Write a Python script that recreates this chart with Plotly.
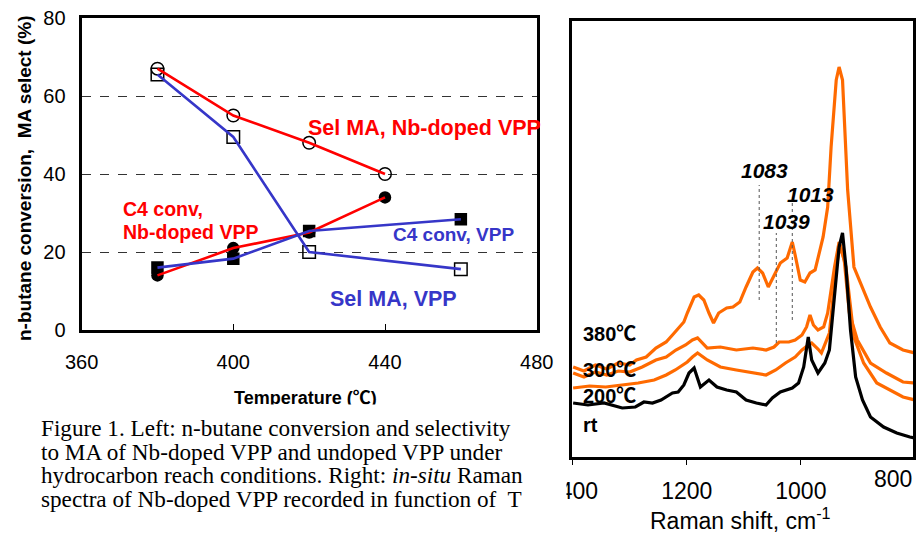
import plotly.graph_objects as go

# ---------------- Left panel data ----------------
temps_nb = [380, 400, 420, 440]
sel_ma_nb = [67, 55, 48, 40]
conv_nb = [14, 21, 25, 34]
temps_vpp = [380, 400, 420, 460]
sel_ma_vpp = [65.5, 49.5, 20, 15.6]
conv_vpp = [16, 18.3, 25.4, 28.4]
left_xticks = [360, 400, 440, 480]
left_yticks = [0, 20, 40, 60, 80]

# ---------------- Right panel data (Raman, arbitrary intensity) ----------------
w_380 = [1399, 1380, 1360, 1340, 1320, 1300, 1288, 1271, 1254, 1236, 1225, 1214, 1205, 1199, 1187,
         1179, 1170, 1161, 1153, 1144, 1130, 1119, 1107, 1096, 1084, 1076, 1067, 1057, 1047, 1036,
         1024, 1015, 1010, 1001, 993, 984, 975, 961, 953, 947, 938, 933, 927, 918, 907, 892, 878,
         861, 844, 821, 800]
i_380 = [90, 86, 92, 88, 94, 92, 97, 100, 109, 115, 122, 129, 135, 144, 160,
         162, 157, 144, 134, 144, 149, 150, 155, 170, 185, 189, 184, 170, 182, 194,
         199, 215, 202, 177, 175, 184, 187, 220, 250, 310, 377, 390, 377, 267, 190, 170, 150,
         130, 114, 107, 104]

w_300 = [1399, 1380, 1360, 1340, 1320, 1300, 1278, 1254, 1236, 1219, 1202, 1190, 1181, 1164, 1141,
         1113, 1084, 1061, 1047, 1038, 1021, 1010, 998, 990, 984, 978, 970, 960, 953, 941, 933, 924,
         915, 901, 878, 850, 821, 800]
i_300 = [84, 80, 85, 82, 86, 85, 90, 97, 100, 107, 112, 117, 119, 109, 110,
         107, 109, 107, 110, 115, 115, 117, 122, 130, 142, 132, 127, 130, 144, 190, 215, 197,
         144, 117, 94, 84, 75, 74]

w_200 = [1399, 1370, 1342, 1310, 1285, 1257, 1236, 1220, 1199, 1190, 1181, 1164, 1141, 1113, 1084,
         1061, 1044, 1027, 1010, 998, 987, 981, 970, 964, 950, 938, 931, 921, 907, 890, 867, 844,
         821, 800]
i_200 = [69, 71, 70, 72, 74, 77, 82, 87, 95, 100, 104, 97, 90, 87, 84,
         82, 87, 94, 100, 107, 112, 114, 108, 104, 124, 190, 212, 190, 120, 94, 74, 67,
         60, 57]

w_rt = [1399, 1373, 1345, 1313, 1290, 1275, 1260, 1245, 1225, 1215, 1205, 1196, 1187, 1176, 1161,
        1147, 1130, 1113, 1096, 1078, 1061, 1050, 1036, 1015, 1004, 995, 987, 981, 970, 958, 950,
        941, 933, 927, 921, 913, 904, 892, 878, 855, 832, 809, 800]
i_rt = [54, 52, 54, 49, 50, 55, 54, 57, 64, 65, 72, 84, 89, 70, 77,
        70, 67, 65, 57, 54, 52, 59, 65, 69, 74, 90, 120, 97, 84, 94, 107,
        160, 210, 224, 190, 127, 80, 57, 40, 30, 24, 20, 19]

right_xticks = [1400, 1200, 1000, 800]
peak_labels = ["1083", "1039", "1013"]
peak_line_x = [1073, 1043, 1015]
peak_line_y0 = [157, 114, 137]
peak_line_y1 = [272, 224, 254]

# page body has an 8px margin; figure is sized so that the page does not scroll
OFF = 8
W, H = 924 - OFF, 543 - 2 * OFF
RED = "#FF0000"
BLUE = "#3636C8"
ORANGE = "#FF6A00"
SANS = "Liberation Sans, Arial, Noto Sans CJK SC"
SERIF = "Liberation Serif, Times New Roman, serif"


def px(x):
    return (x - OFF) / W


def py(y):
    return 1 - (y - OFF) / H


fig = go.Figure()

# markers first (black), lines on top
fig.add_trace(go.Scatter(x=temps_nb, y=sel_ma_nb, mode="markers", xaxis="x", yaxis="y",
                         marker=dict(symbol="circle-open", size=12.5, color="black", line=dict(width=1.5))))
fig.add_trace(go.Scatter(x=temps_vpp, y=sel_ma_vpp, mode="markers", xaxis="x", yaxis="y",
                         marker=dict(symbol="square-open", size=12.5, color="black", line=dict(width=1.5))))
fig.add_trace(go.Scatter(x=temps_nb, y=conv_nb, mode="markers", xaxis="x", yaxis="y",
                         marker=dict(symbol="circle", size=12.5, color="black")))
fig.add_trace(go.Scatter(x=temps_vpp, y=conv_vpp, mode="markers", xaxis="x", yaxis="y",
                         marker=dict(symbol="square", size=12.5, color="black")))
fig.add_trace(go.Scatter(x=temps_nb, y=sel_ma_nb, mode="lines", xaxis="x", yaxis="y",
                         line=dict(color=RED, width=2.6)))
fig.add_trace(go.Scatter(x=temps_nb, y=conv_nb, mode="lines", xaxis="x", yaxis="y",
                         line=dict(color=RED, width=2.6)))
fig.add_trace(go.Scatter(x=temps_vpp, y=sel_ma_vpp, mode="lines", xaxis="x", yaxis="y",
                         line=dict(color=BLUE, width=2.6)))
fig.add_trace(go.Scatter(x=temps_vpp, y=conv_vpp, mode="lines", xaxis="x", yaxis="y",
                         line=dict(color=BLUE, width=2.6)))

# Raman spectra
for wv, iv, col in [(w_380, i_380, ORANGE), (w_300, i_300, ORANGE), (w_200, i_200, ORANGE), (w_rt, i_rt, "black")]:
    fig.add_trace(go.Scatter(x=wv, y=iv, mode="lines", xaxis="x2", yaxis="y2",
                             line=dict(color=col, width=3.2)))

shapes = []
for xv, y0, y1 in zip(peak_line_x, peak_line_y0, peak_line_y1):
    shapes.append(dict(type="line", xref="x2", yref="y2", x0=xv, x1=xv, y0=y0, y1=y1,
                       line=dict(color="#555555", width=1, dash="dot")))

ann = []


def add_text(text, x, y, size, color="black", bold=False, italic=False, xanchor="left",
             yanchor="middle", family=SANS, **kw):
    t = text
    if bold:
        t = "<b>" + t + "</b>"
    if italic:
        t = "<i>" + t + "</i>"
    ann.append(dict(text=t, x=px(x), y=py(y), xref="paper", yref="paper", showarrow=False,
                    xanchor=xanchor, yanchor=yanchor, font=dict(family=family, size=size, color=color), **kw))


# Left panel labels
add_text("Sel MA, Nb-doped VPP", 306, 128, 21.5, RED, bold=True)
add_text("C4 conv, VPP", 391, 234, 19, BLUE, bold=True)
add_text("Sel MA, VPP", 328, 299, 21.5, BLUE, bold=True)
add_text("C4 conv,", 121, 209, 19.5, RED, bold=True)
add_text("Nb-doped VPP", 121, 232, 19.5, RED, bold=True)
add_text("n-butane conversion,\u00a0 MA select (%)", 25, 178, 19, bold=True, xanchor="center",
         textangle=-90)
add_text("Temperature (\u2103)", 305, 398, 18, bold=True, xanchor="center")

# white cover (clips bottom of the temperature title) and caption
ann.append(dict(text="\u00a0", x=px(30), y=py(404), xref="paper", yref="paper", showarrow=False,
                xanchor="left", yanchor="top", width=515, height=120, bgcolor="white",
                font=dict(size=10)))
caption = ["Figure 1. Left: n-butane conversion and selectivity",
           "to MA of Nb-doped VPP and undoped VPP under",
           "hydrocarbon reach conditions. Right: <i>in-situ</i> Raman",
           "spectra of Nb-doped VPP recorded in function of\u00a0 T"]
for k, line in enumerate(caption):
    add_text(line, 39, 428 + k * 23.7, 23.2, family=SERIF)

# cover the clipped leading "1" of 1400
ann.append(dict(text="\u00a0", x=px(538), y=py(462), xref="paper", yref="paper", showarrow=False,
                xanchor="left", yanchor="top", width=25, height=34, bgcolor="white",
                font=dict(size=10)))

# Right panel labels
add_text("380\u2103", 581, 334, 20, bold=True)
add_text("300\u2103", 581, 370, 20, bold=True)
add_text("200\u2103", 581, 396, 20, bold=True)
add_text("rt", 581, 425, 20, bold=True)
for lab, (cx, cy) in zip(peak_labels, [(764, 170), (786, 221), (810, 194)]):
    add_text(lab, cx, cy, 21, bold=True, italic=True, xanchor="center")
add_text("800", 914, 479, 23, xanchor="right")
add_text("Raman shift, cm<sup>-1</sup>", 740, 518.5, 23, xanchor="center")

fig.update_layout(
    width=W, height=H, margin=dict(l=0, r=0, t=0, b=0, autoexpand=False),
    paper_bgcolor="white", plot_bgcolor="white", showlegend=False,
    font=dict(family=SANS, color="black"),
    shapes=shapes, annotations=ann,
    xaxis=dict(domain=[px(81.6), px(536.7)], range=[360, 480], tickvals=left_xticks,
               ticks="inside", ticklen=6, tickwidth=1, tickcolor="black", ticklabelstandoff=12,
               ticklabeloverflow="allow",
               showline=True, mirror=True, linewidth=3, linecolor="black", automargin=False,
               showgrid=False, zeroline=False, tickfont=dict(size=20, family=SANS), anchor="y"),
    yaxis=dict(domain=[py(330), py(18)], range=[0, 80], tickvals=left_yticks,
               ticks="", ticklabelstandoff=9, ticklabeloverflow="allow",
               showline=True, mirror=True, linewidth=3, linecolor="black", automargin=False,
               showgrid=True, gridcolor="#333333", gridwidth=1, griddash="dash",
               zeroline=False, tickfont=dict(size=20, family=SANS), anchor="x"),
    xaxis2=dict(domain=[px(572), px(913)], range=[1401, 803.5], tickvals=right_xticks,
                ticktext=["1400", "1200", "1000", ""], ticklabelstandoff=6, ticklabeloverflow="allow",
                ticks="outside", ticklen=5, tickwidth=1, tickcolor="black", automargin=False,
                showline=True, mirror=True, linewidth=3, linecolor="black",
                showgrid=False, zeroline=False, tickfont=dict(size=23, family=SANS), anchor="y2"),
    yaxis2=dict(domain=[py(457), py(21)], range=[0, 436], showticklabels=False, ticks="",
                showline=True, mirror=True, linewidth=3, linecolor="black", automargin=False,
                showgrid=False, zeroline=False, anchor="x2"),
)

fig.write_html("out.html")
